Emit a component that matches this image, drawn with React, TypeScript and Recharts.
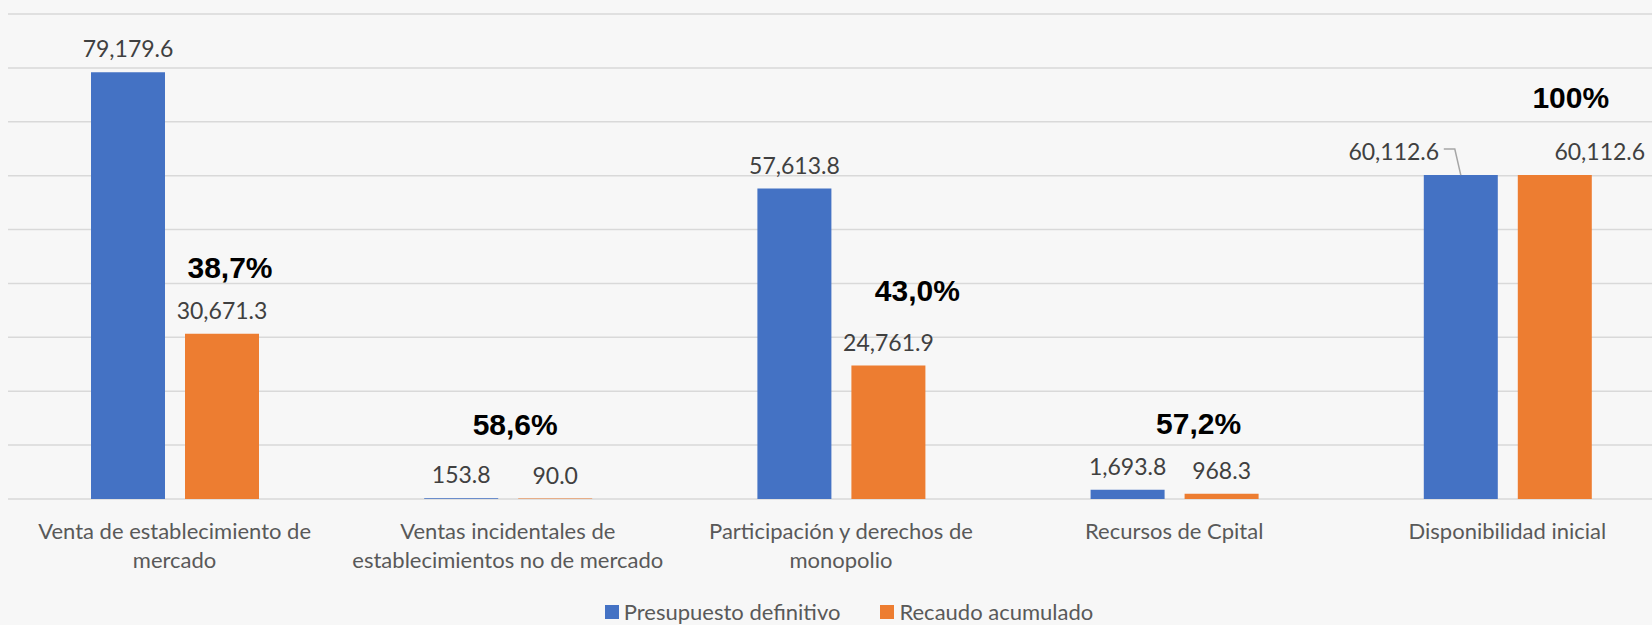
import { BarChart, Bar, XAxis, YAxis, CartesianGrid, Legend, LabelList } from "recharts";

const categories = [
  "Venta de establecimiento de mercado",
  "Ventas incidentales de establecimientos no de mercado",
  "Participación y derechos de monopolio",
  "Recursos de Cpital",
  "Disponibilidad inicial",
];
const presupuesto = [79179.6, 153.8, 57613.8, 1693.8, 60112.6];
const recaudo = [30671.3, 90.0, 24761.9, 968.3, 60112.6];
const porcentaje = ["38,7%", "58,6%", "43,0%", "57,2%", "100%"];
const yTicks = [0, 10000, 20000, 30000, 40000, 50000, 60000, 70000, 80000, 90000];

const data = categories.map((name, i) => ({
  name,
  presupuesto: presupuesto[i],
  recaudo: recaudo[i],
  pct: porcentaje[i],
}));

const fmt = (v: number) =>
  v.toLocaleString("en-US", { minimumFractionDigits: 1, maximumFractionDigits: 1 });

// greedy word wrap, about 30 characters per line
const wrap = (s: string, max = 30) => {
  const lines: string[] = [];
  let cur = "";
  s.split(" ").forEach((w) => {
    if (cur && (cur + " " + w).length > max) {
      lines.push(cur);
      cur = w;
    } else {
      cur = cur ? cur + " " + w : w;
    }
  });
  if (cur) lines.push(cur);
  return lines;
};

// label nudges (Excel had some labels dragged by hand)
const blueShift = [0, 0, 0, 0, -67];
const orangeShift = [0, 0, 0, 0, 45];
const pctShift = [8, -40, 29, -23, 16];
const pctRise = [67, 75, 76, 71, 78];

const valueLabel = (shift: number[]) => (props: any) => {
  const { x, y, width, value, index } = props;
  const cx = x + width / 2;
  const dx = shift[index] || 0;
  const lx = cx + dx;
  return (
    <g>
      <text x={lx} y={y - 15} textAnchor="middle" fontFamily="Lato" fontSize={23} fill="#404040">
        {fmt(value)}
      </text>
      {dx < 0 ? (
        <path d={`M${lx + 50},${y - 26}H${lx + 61}L${cx},${y}`} stroke="#a6a6a6" strokeWidth={1.5} fill="none" />
      ) : null}
    </g>
  );
};

const pctLabel = (props: any) => {
  const { x, y, width, value, index } = props;
  return (
    <text
      x={x + width / 2 + pctShift[index]}
      y={y - pctRise[index] + 11}
      textAnchor="middle"
      fontFamily="Liberation Sans"
      fontWeight="bold"
      fontSize={30}
      fill="#000"
    >
      {value}
    </text>
  );
};

const catTick = (props: any) => {
  const { x, y, payload } = props;
  const lines = wrap(String(payload.value));
  return (
    <text x={x} y={y + 40} textAnchor="middle" fontFamily="Lato" fontSize={22} fill="#595959">
      {lines.map((l, i) => (
        <tspan key={i} x={x} dy={i === 0 ? 0 : 29}>
          {l}
        </tspan>
      ))}
    </text>
  );
};

const renderLegend = (props: any) => (
  <div
    style={{
      display: "flex",
      justifyContent: "center",
      gap: 40,
      height: 26,
      lineHeight: "26px",
      fontFamily: "Lato",
      fontSize: 22,
      color: "#595959",
      paddingLeft: 16,
    }}
  >
    {(props.payload || []).map((p: any) => (
      <span key={p.value} style={{ display: "flex", alignItems: "center" }}>
        <span style={{ width: 14, height: 14, background: p.color, marginRight: 5 }} />
        {p.value}
      </span>
    ))}
  </div>
);

export default function App() {
  return (
    <div
      style={{
        position: "fixed",
        left: 0,
        top: 0,
        width: 1652,
        height: 625,
        overflow: "hidden",
        background: "#f7f7f7",
      }}
    >
      <BarChart
        width={1674}
        height={625}
        data={data}
        margin={{ top: 14, right: 0, bottom: 0, left: 8 }}
        barGap={20}
      >
        <CartesianGrid vertical={false} stroke="#d9d9d9" strokeWidth={1.5} />
        <YAxis hide domain={[0, 90000]} ticks={yTicks} />
        <XAxis
          dataKey="name"
          axisLine={false}
          tickLine={false}
          tickSize={0}
          tickMargin={0}
          height={100}
          interval={0}
          tick={catTick}
        />
        <Legend verticalAlign="bottom" content={renderLegend} />
        <Bar dataKey="presupuesto" name="Presupuesto definitivo" fill="#4472C4" barSize={74} isAnimationActive={false}>
          <LabelList dataKey="presupuesto" content={valueLabel(blueShift)} />
        </Bar>
        <Bar dataKey="recaudo" name="Recaudo acumulado" fill="#ED7D31" barSize={74} isAnimationActive={false}>
          <LabelList dataKey="recaudo" content={valueLabel(orangeShift)} />
          <LabelList dataKey="pct" content={pctLabel} />
        </Bar>
      </BarChart>
    </div>
  );
}
